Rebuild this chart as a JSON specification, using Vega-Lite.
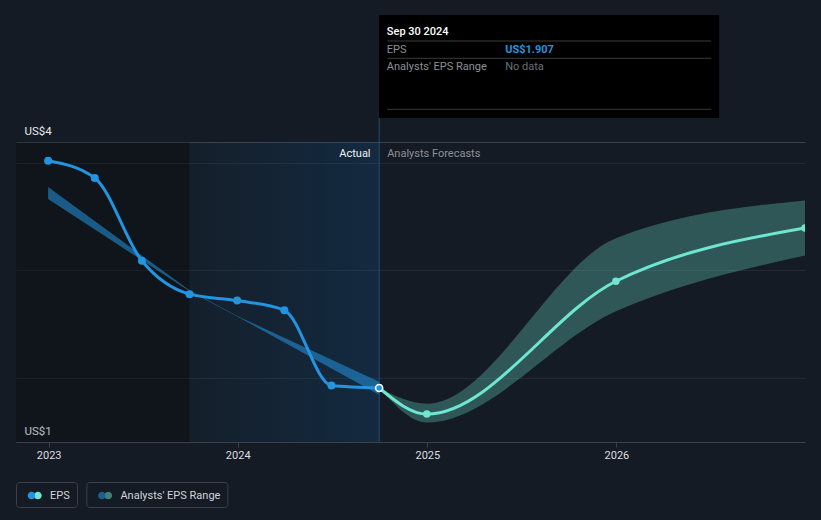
{
"$schema": "https://vega.github.io/schema/vega-lite/v6.json",
"width": 789,
"height": 300,
"autosize": {"type": "none"},
"padding": {"left": 16, "top": 142, "right": 16, "bottom": 78},
"background": "#151b24",
"config": {
  "view": {"stroke": null},
  "font": "Roboto",
  "legend": {
    "orient": "none",
    "title": null,
    "padding": 6.5,
    "strokeColor": "#3b414a",
    "cornerRadius": 3,
    "symbolSize": 196,
    "symbolOffset": 5.2,
    "symbolStrokeWidth": 0,
    "symbolOpacity": 1,
    "labelOffset": 8.3,
    "labelFontSize": 11,
    "labelFont": "Roboto",
    "labelColor": "#cfd3d8",
    "labelExpr": "datum.label == 'EPS' ? datum.label + '\u00a0\u00a0\u00a0\u00a0' : datum.label + '\u00a0\u00a0\u00a0\u00a0\u00a0\u00a0'"
  }
},
"resolve": {"scale": {"shape": "independent"}},
"datasets": {
  "actual": [
    {"date": "2022-12-31", "eps": 4.02},
    {"date": "2023-03-31", "eps": 3.86},
    {"date": "2023-06-30", "eps": 3.09},
    {"date": "2023-09-30", "eps": 2.78},
    {"date": "2023-12-31", "eps": 2.72},
    {"date": "2024-03-31", "eps": 2.63},
    {"date": "2024-06-30", "eps": 1.93},
    {"date": "2024-09-30", "eps": 1.907}
  ],
  "forecast": [
    {"date": "2024-09-30", "eps": 1.907},
    {"date": "2024-12-31", "eps": 1.665},
    {"date": "2025-12-31", "eps": 2.9},
    {"date": "2026-12-31", "eps": 3.395}
  ],
  "range_past": [
    {"date": "2022-12-31", "low": 3.665, "high": 3.777},
    {"date": "2023-09-30", "low": 2.806, "high": 2.816},
    {"date": "2023-12-31", "low": 2.572, "high": 2.577},
    {"date": "2024-09-30", "low": 1.845, "high": 1.965}
  ],
  "range_forecast": [
    {"date": "2024-09-30", "low": 1.907, "high": 1.907},
    {"date": "2024-12-31", "low": 1.587, "high": 1.761},
    {"date": "2025-12-31", "low": 2.62, "high": 3.3},
    {"date": "2026-12-31", "low": 3.14, "high": 3.65}
  ],
  "regions": [
    {"date": "2022-10-30", "end": "2023-09-30", "kind": "older"},
    {"date": "2023-09-30", "end": "2024-09-30", "kind": "recent"}
  ],
  "tip": [
    {"date": "2024-09-30", "eps": 1.907, "range": "No data"}
  ],
  "labels": [
    {"date": "2024-09-30", "label": "Actual"},
    {"date": "2024-09-30", "label": "Analysts Forecasts"}
  ]
},
"encoding": {
  "x": {
    "field": "date",
    "type": "temporal",
    "scale": {
      "type": "utc",
      "nice": false,
      "domain": [
        {"year": 2022, "month": 10, "date": 30, "utc": true},
        {"year": 2026, "month": 12, "date": 31, "utc": true}
      ]
    },
    "axis": {
      "title": null,
      "format": "%Y",
      "tickCount": {"interval": "year", "step": 1},
      "grid": false,
      "domainColor": "#3b414a",
      "tickColor": "#3b414a",
      "tickSize": 5,
      "labelColor": "#dcdee0",
      "labelFontSize": 11,
      "labelPadding": 2,
      "labelFlush": false
    }
  }
},
"layer": [
  {
    "data": {"name": "regions"},
    "transform": [{"filter": "datum.kind == 'older'"}],
    "mark": {"type": "rect", "color": "#000000", "opacity": 0.2},
    "encoding": {"x2": {"field": "end"}}
  },
  {
    "data": {"name": "regions"},
    "transform": [{"filter": "datum.kind == 'recent'"}],
    "mark": {
      "type": "rect",
      "fill": {
        "gradient": "linear", "x1": 0, "y1": 0, "x2": 1, "y2": 0,
        "stops": [
          {"offset": 0, "color": "rgba(11,102,176,0.05)"},
          {"offset": 1, "color": "rgba(11,102,176,0.2)"}
        ]
      }
    },
    "encoding": {"x2": {"field": "end"}}
  },
  {
    "data": {"name": "range_past"},
    "mark": {"type": "area", "color": "#2394df", "opacity": 0.55, "interpolate": "linear"},
    "encoding": {
      "y": {
        "field": "low",
        "type": "quantitative",
        "scale": {"domain": [1.405, 4.195], "nice": false, "zero": false},
        "axis": {
          "title": null,
          "values": [1.405, 2, 3, 4, 4.195],
          "domain": false,
          "ticks": false,
          "tickSize": 0,
          "labelExpr": "datum.value > 4.1 ? 'US$4' : (datum.value < 1.5 ? 'US$1' : '')",
          "labelAlign": "left",
          "labelBaseline": "alphabetic",
          "labelPadding": -8,
          "labelOffset": -8,
          "labelColor": "#e6e8ea",
          "labelFontSize": 11.5,
          "labelOverlap": false,
          "labelFlush": false,
          "grid": true,
          "gridColor": {"condition": {"test": "datum.value > 4.1 || datum.value < 1.5", "value": "#3b414a"}, "value": "#222932"}
        }
      },
      "y2": {"field": "high"}
    }
  },
  {
    "data": {"name": "range_forecast"},
    "mark": {"type": "area", "color": "#6ee6d0", "opacity": 0.3, "interpolate": "monotone", "clip": true},
    "encoding": {
      "y": {"field": "low", "type": "quantitative"},
      "y2": {"field": "high"}
    }
  },
  {
    "data": {"name": "tip"},
    "mark": {"type": "rule", "color": "#24506f", "strokeWidth": 1},
    "encoding": {
      "y": {"value": -24},
      "y2": {"value": 300}
    }
  },
  {
    "data": {"name": "actual"},
    "mark": {"type": "line", "color": "#2394df", "strokeWidth": 3, "interpolate": "monotone"},
    "encoding": {"y": {"field": "eps", "type": "quantitative"}}
  },
  {
    "data": {"name": "forecast"},
    "mark": {"type": "line", "color": "#6ee6d0", "strokeWidth": 3, "interpolate": "monotone", "clip": true},
    "encoding": {"y": {"field": "eps", "type": "quantitative"}}
  },
  {
    "data": {"name": "actual"},
    "mark": {"type": "circle", "size": 64, "color": "#2394df", "opacity": 1},
    "encoding": {"y": {"field": "eps", "type": "quantitative"}}
  },
  {
    "data": {"name": "forecast"},
    "mark": {"type": "circle", "size": 56, "color": "#6ee6d0", "opacity": 1, "clip": true},
    "encoding": {"y": {"field": "eps", "type": "quantitative"}}
  },
  {
    "data": {"name": "tip"},
    "mark": {"type": "circle", "size": 50, "fill": "#2394df", "stroke": "#ffffff", "strokeWidth": 1.5, "opacity": 1},
    "encoding": {"y": {"field": "eps", "type": "quantitative"}}
  },
  {
    "data": {"name": "tip"},
    "mark": {
      "type": "point", "filled": true, "opacity": 0, "size": 196,
      "fill": {"gradient": "linear", "x1": 0, "y1": 0, "x2": 1, "y2": 0, "stops": [{"offset": 0, "color": "#2394df"}, {"offset": 0.5, "color": "#2394df"}, {"offset": 0.5, "color": "#6ee6d0"}, {"offset": 1, "color": "#6ee6d0"}]}
    },
    "encoding": {
      "y": {"field": "eps", "type": "quantitative"},
      "shape": {
        "datum": "EPS",
        "scale": {"range": ["M-1,0A0.55,0.55 0 1,0 0.1,0A0.55,0.55 0 1,0 -1,0Z M-0.1,0A0.55,0.55 0 1,0 1,0A0.55,0.55 0 1,0 -0.1,0Z"]},
        "legend": {"legendX": 0, "legendY": 340}
      }
    }
  },
  {
    "data": {"name": "tip"},
    "mark": {
      "type": "point", "filled": true, "opacity": 0, "size": 196,
      "fill": {"gradient": "linear", "x1": 0, "y1": 0, "x2": 1, "y2": 0, "stops": [{"offset": 0, "color": "#1f5d8a"}, {"offset": 0.5, "color": "#1f5d8a"}, {"offset": 0.5, "color": "#3e7f79"}, {"offset": 1, "color": "#3e7f79"}]}
    },
    "encoding": {
      "y": {"field": "eps", "type": "quantitative"},
      "shape": {
        "datum": "Analysts' EPS Range",
        "scale": {"range": ["M-1,0A0.55,0.55 0 1,0 0.1,0A0.55,0.55 0 1,0 -1,0Z M-0.1,0A0.55,0.55 0 1,0 1,0A0.55,0.55 0 1,0 -0.1,0Z"]},
        "legend": {"legendX": 70.4, "legendY": 340}
      }
    }
  },
  {
    "data": {"name": "labels"},
    "transform": [{"filter": "datum.label == 'Actual'"}],
    "mark": {"type": "text", "align": "right", "baseline": "alphabetic", "dx": -8.6, "fontSize": 11, "color": "#f2f2f2"},
    "encoding": {"y": {"value": 15.3}, "text": {"field": "label"}}
  },
  {
    "data": {"name": "labels"},
    "transform": [{"filter": "datum.label != 'Actual'"}],
    "mark": {"type": "text", "align": "left", "baseline": "alphabetic", "dx": 8, "fontSize": 11, "color": "#8c9097"},
    "encoding": {"y": {"value": 15.3}, "text": {"field": "label"}}
  },
  {
    "data": {"name": "tip"},
    "mark": {"type": "rect", "color": "#000000", "x2Offset": 340},
    "encoding": {"x2": {"field": "date"}, "y": {"value": -127}, "y2": {"value": -24}}
  },
  {
    "data": {"name": "tip"},
    "mark": {"type": "rule", "color": "#3a3a3a", "strokeWidth": 1, "xOffset": 8, "x2Offset": 332},
    "encoding": {"x2": {"field": "date"}, "y": {"value": -101}}
  },
  {
    "data": {"name": "tip"},
    "mark": {"type": "rule", "color": "#3a3a3a", "strokeWidth": 1, "xOffset": 8, "x2Offset": 332},
    "encoding": {"x2": {"field": "date"}, "y": {"value": -83.7}}
  },
  {
    "data": {"name": "tip"},
    "mark": {"type": "rule", "color": "#3a3a3a", "strokeWidth": 1, "xOffset": 8, "x2Offset": 332},
    "encoding": {"x2": {"field": "date"}, "y": {"value": -32.7}}
  },
  {
    "data": {"name": "tip"},
    "mark": {"type": "text", "align": "left", "baseline": "alphabetic", "dx": 7.7, "fontSize": 11, "fontWeight": 500, "color": "#ffffff"},
    "encoding": {
      "y": {"value": -107},
      "text": {"field": "date", "type": "temporal", "timeUnit": "utcyearmonthdate", "format": "%b %d %Y"}
    }
  },
  {
    "data": {"name": "tip"},
    "mark": {"type": "text", "text": "EPS", "align": "left", "baseline": "alphabetic", "dx": 7.7, "fontSize": 11, "color": "#8c9096"},
    "encoding": {"y": {"value": -89.3}}
  },
  {
    "data": {"name": "tip"},
    "transform": [{"calculate": "'US$' + format(datum.eps, '.3f')", "as": "eps_label"}],
    "mark": {"type": "text", "align": "left", "baseline": "alphabetic", "dx": 126, "fontSize": 11, "fontWeight": "bold", "color": "#2394df"},
    "encoding": {"y": {"value": -89.3}, "text": {"field": "eps_label"}}
  },
  {
    "data": {"name": "tip"},
    "mark": {"type": "text", "text": "Analysts' EPS Range", "align": "left", "baseline": "alphabetic", "dx": 7.7, "fontSize": 11, "color": "#8c9096"},
    "encoding": {"y": {"value": -72}}
  },
  {
    "data": {"name": "tip"},
    "mark": {"type": "text", "align": "left", "baseline": "alphabetic", "dx": 126, "fontSize": 11, "color": "#6b6f75"},
    "encoding": {"y": {"value": -72}, "text": {"field": "range"}}
  }
]
}
